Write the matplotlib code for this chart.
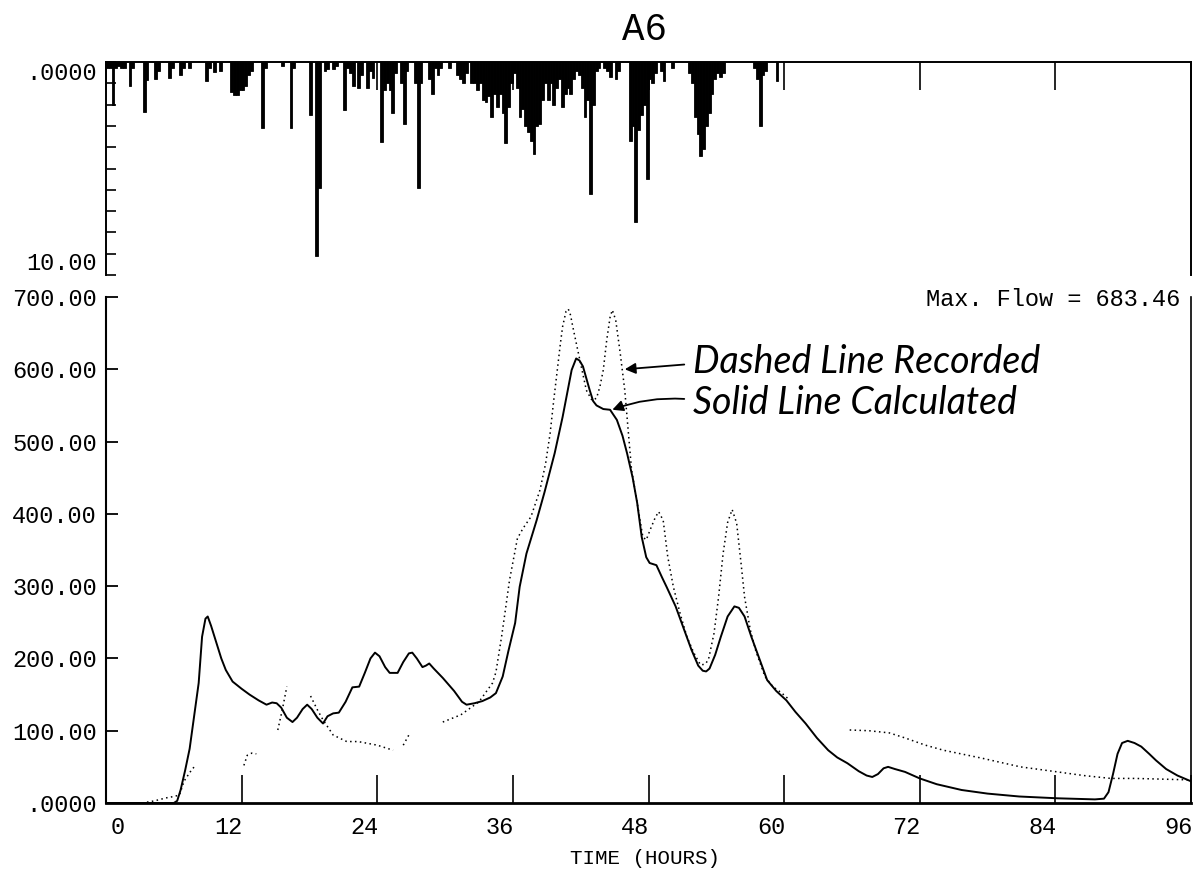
import numpy as np
import matplotlib
matplotlib.use("Agg")
import matplotlib.pyplot as plt

plt.rcParams["font.family"] = ["Liberation Mono", "DejaVu Sans Mono"]

nan = float("nan")

# ---------------------------------------------------------------- data
title = "A6"
hour_ticks = [0, 12, 24, 36, 48, 60, 72, 84, 96]
hour_labels = ["0", "12", "24", "36", "48", "60", "72", "84", "96"]
flow_ticks = [0, 100, 200, 300, 400, 500, 600, 700]
flow_labels = [".0000", "100.00", "200.00", "300.00", "400.00", "500.00", "600.00", "700.00"]

# rainfall per 15-minute interval (start hour, depth)
rain_t = [0.00, 0.25, 0.50, 0.75, 1.00, 1.25, 1.50, 2.00, 2.25, 3.25,
          3.50, 4.25, 4.50, 5.50, 5.75, 6.50, 6.75, 7.25, 8.75, 9.00,
          9.50, 10.00, 11.00, 11.25, 11.50, 11.75, 12.00, 12.25, 12.50, 12.75,
          13.75, 14.00, 15.50, 16.25, 16.50, 18.00, 18.50, 18.75, 19.25, 19.50,
          20.00, 20.25, 21.00, 21.25, 21.50, 21.75, 22.25, 22.50, 23.00, 23.25,
          23.50, 24.25, 24.50, 24.75, 25.00, 25.25, 25.50, 26.00, 26.25, 26.50,
          27.25, 27.50, 27.75, 28.50, 28.75, 29.00, 29.25, 29.50, 30.25, 31.00,
          31.25, 31.50, 31.75, 32.25, 32.50, 32.75, 33.00, 33.25, 33.50, 33.75,
          34.00, 34.25, 34.50, 34.75, 35.00, 35.25, 35.50, 35.75, 36.00, 36.25,
          36.50, 36.75, 37.00, 37.25, 37.50, 37.75, 38.00, 38.25, 38.50, 38.75,
          39.00, 39.25, 39.50, 39.75, 40.00, 40.25, 40.50, 40.75, 41.00, 41.25,
          41.50, 41.75, 42.00, 42.25, 42.50, 42.75, 43.00, 43.25, 43.50, 44.00,
          44.25, 44.50, 45.00, 45.25, 46.25, 46.50, 46.75, 47.00, 47.25, 47.50,
          47.75, 48.00, 48.25, 48.50, 49.00, 49.25, 50.00, 51.50, 51.75, 52.00,
          52.25, 52.50, 52.75, 53.00, 53.25, 53.50, 53.75, 54.00, 54.25, 54.50,
          57.25, 57.50, 57.75, 58.00, 58.25, 59.25]
rain_mm = [0.3, 0.3, 2.0, 0.3, 0.2, 0.3, 0.3, 1.15, 0.3, 2.35,
           0.85, 0.8, 0.4, 0.75, 0.3, 0.6, 0.3, 0.3, 0.9, 0.3,
           0.45, 0.4, 1.4, 1.55, 1.55, 1.3, 1.3, 1.15, 0.6, 0.4,
           3.1, 0.3, 0.2, 3.1, 0.3, 2.5, 9.1, 5.9, 0.4, 0.35,
           0.35, 0.2, 2.25, 0.3, 0.5, 1.15, 1.2, 0.6, 1.2, 0.4,
           0.75, 3.75, 1.3, 1.0, 1.3, 2.4, 0.5, 1.0, 2.9, 0.4,
           1.0, 5.9, 1.0, 0.8, 1.5, 0.3, 0.6, 0.3, 0.3, 0.6,
           0.8, 1.0, 0.5, 1.0, 1.0, 1.3, 1.0, 1.8, 1.9, 1.6,
           2.6, 1.5, 2.1, 1.5, 2.4, 3.8, 2.1, 1.0, 0.5, 1.2,
           2.6, 2.2, 3.0, 3.3, 3.7, 4.3, 3.0, 2.9, 1.8, 1.0,
           1.8, 1.0, 2.0, 1.2, 0.8, 2.1, 1.5, 1.2, 1.5, 0.8,
           0.4, 0.6, 1.2, 2.6, 1.8, 6.2, 2.0, 0.4, 0.3, 0.3,
           0.4, 0.7, 0.8, 0.4, 3.7, 3.0, 7.5, 3.2, 2.5, 2.0,
           5.5, 0.8, 1.0, 0.5, 0.4, 0.9, 0.3, 0.5, 1.0, 2.6,
           3.4, 4.4, 4.1, 3.0, 2.4, 1.5, 0.8, 0.5, 0.7, 0.5,
           0.3, 0.8, 3.0, 0.6, 0.4, 0.9]

# calculated flow (hour, flow)
calc_t = [0, 6.0, 6.3, 6.6, 7.0, 7.4, 7.8, 8.2, 8.5, 8.8,
          9.0, 9.3, 9.7, 10.2, 10.6, 11.2, 12.0, 12.7, 13.5, 14.2,
          14.7, 15.1, 15.5, 16.0, 16.5, 16.9, 17.4, 17.8, 18.2, 18.7,
          19.2, 19.6, 20.1, 20.6, 21.2, 21.8, 22.4, 22.9, 23.4, 23.8,
          24.2, 24.7, 25.1, 25.8, 26.3, 26.8, 27.1, 27.5, 28.0, 28.3,
          28.6, 29.0, 29.8, 30.8, 31.5, 31.9, 32.6, 33.3, 34.0, 34.5,
          35.1, 35.6, 36.2, 36.6, 37.2, 38.1, 38.8, 39.7, 40.4, 40.9,
          41.2, 41.6, 41.9, 42.2, 42.8, 43.1, 43.4, 44.0, 44.6, 45.2,
          45.7, 46.1, 46.6, 47.0, 47.4, 47.8, 48.1, 48.7, 49.2, 49.6,
          50.4, 51.1, 51.8, 52.4, 52.8, 53.1, 53.4, 53.9, 54.4, 55.0,
          55.6, 56.0, 56.5, 57.1, 57.8, 58.5, 59.3, 60.2, 61.0, 61.9,
          62.9, 63.9, 64.7, 65.6, 66.6, 67.3, 67.8, 68.3, 68.8, 69.2,
          69.8, 70.7, 72.0, 73.5, 75.7, 78.0, 80.8, 84.2, 87.5, 88.3,
          88.7, 89.1, 89.5, 89.9, 90.4, 91.0, 91.6, 92.3, 92.9, 93.8,
          94.8, 96.0]
calc_q = [0, 0, 3, 18, 45, 75, 120, 166, 230, 255,
          258, 245, 225, 200, 184, 168, 158, 150, 142, 136,
          139, 138, 132, 118, 112, 118, 130, 136, 130, 118,
          110, 120, 124, 125, 140, 160, 161, 180, 200, 208,
          203, 188, 180, 180, 195, 207, 208, 200, 188, 190,
          193, 186, 173, 155, 140, 136, 138, 141, 146, 152,
          175, 210, 249, 299, 345, 391, 430, 484, 534, 575,
          599, 615, 612, 604, 571, 556, 550, 545, 544, 530,
          508, 484, 450, 415, 368, 340, 332, 329, 312, 299,
          272, 242, 212, 190, 183, 182, 186, 205, 230, 258,
          272, 270, 258, 230, 200, 170, 155, 142, 126, 110,
          90, 73, 63, 55, 44, 38, 36, 40, 48, 50,
          47, 43, 34, 26, 18, 13, 9, 6.5, 5, 6,
          15, 40, 68, 83, 86, 83, 78, 68, 59, 47,
          38, 30]

# recorded flow (hour, flow); NaN marks gaps in the record
rec_t = [3.2, 4.3, 5.3, 6.0, 6.5, 6.9, 7.4, 7.9, nan,
         12.2, 12.5, 12.9, 13.3, nan,
         15.2, 15.6, 16.0, nan,
         18.1, 18.7, 19.2, 20.1, 21.3, 22.3, 24.0, 25.4, nan,
         26.3, 26.9, nan,
         29.8, 31.4, 33.0, 34.2, 34.5, 35.0, 35.3, 35.7, 36.4, 36.9,
         37.6, 38.4, 38.9, 39.3, 39.6, 39.9, 40.2, 40.4, 40.7, 40.9,
         41.1, 41.3, 41.8, 42.5, 43.0, 43.4, 43.7, 44.0, 44.3, 44.6,
         44.8, 45.1, 45.5, 45.9, 46.2, 46.5, 47.0, 47.5, 47.8, 48.2,
         48.6, 48.9, 49.3, 49.7, 50.2, 50.8, 51.4, 52.0, 52.6, 53.0,
         53.3, 53.8, 54.2, 54.6, 55.0, 55.4, 55.8, 56.2, 56.5, 57.0,
         57.5, 58.3, 59.0, 59.8, 60.3, nan,
         65.8, 67.5, 69.3, 70.7, 72.5, 74.1, 77.5, 80.9, 84.2, 86.5,
         88.9, 91.0, 93.5, 95.8, 96.0]
rec_q = [0, 3, 7, 9, 11, 30, 42, 52, nan,
         52, 66, 69, 68, nan,
         101, 129, 161, nan,
         148, 129, 115, 94, 85, 85, 80, 73, nan,
         80, 97, nan,
         112, 122, 140, 166, 181, 230, 263, 308, 366, 380,
         396, 433, 470, 512, 555, 595, 635, 659, 680, 683.46,
         675, 659, 622, 571, 557, 560, 576, 599, 640, 672,
         682, 668, 622, 571, 516, 461, 415, 368, 364, 380,
         395, 403, 391, 341, 299, 262, 230, 208, 191, 192,
         198, 235, 285, 345, 388, 406, 387, 330, 285, 240,
         210, 175, 161, 152, 145, nan,
         101, 100, 97, 90, 80, 73, 62, 50, 43, 38,
         34, 34, 33, 32, 31]

# ---------------------------------------------------------------- layout
W, H = 1200, 875
fig = plt.figure(figsize=(W / 100, H / 100), dpi=100)
fig.patch.set_facecolor("white")

x_left, x_right = 106, 1191
PX = 0.72  # points per pixel at 100 dpi
LBL = 17   # axis label size

# ---- rainfall panel (hanging bars)
ax_r = fig.add_axes([x_left / W, 1 - 275 / H, (x_right - x_left) / W, (275 - 62) / H])
ax_r.bar(rain_t, rain_mm, width=0.25, align="edge", color="black",
         edgecolor="black", linewidth=0.6)
ax_r.set_xlim(0, 96)
ax_r.set_ylim(10, 0)
ax_r.spines["bottom"].set_visible(False)
for side in ("left", "top", "right"):
    ax_r.spines[side].set_linewidth(1.4)
ax_r.set_xticks(hour_ticks)
ax_r.tick_params(axis="x", direction="in", length=28 * PX, width=1.2,
                 top=True, bottom=False, labeltop=False, labelbottom=False)
ax_r.set_yticks(range(0, 11))
ax_r.tick_params(axis="y", direction="in", length=10 * PX, width=1.2,
                 labelleft=False)
ytr = ax_r.get_yaxis_transform()
ax_r.text(-0.008, 0, ".0000", transform=ytr, ha="right", va="top", fontsize=LBL)
ax_r.text(-0.008, 10, "10.00", transform=ytr, ha="right", va="bottom", fontsize=LBL)

# ---- flow panel
ax_q = fig.add_axes([x_left / W, 1 - 803 / H, (x_right - x_left) / W, (803 - 297) / H])
ax_q.plot(rec_t, rec_q, color="black", lw=1.1, linestyle=(0, (1, 2.2)))
ax_q.plot(calc_t, calc_q, color="black", lw=1.4)
ax_q.set_xlim(0, 96)
ax_q.set_ylim(0, 700)
ax_q.spines["top"].set_visible(False)
ax_q.spines["left"].set_linewidth(1.5)
ax_q.spines["bottom"].set_linewidth(2.0)
ax_q.spines["right"].set_linewidth(1.2)
ax_q.set_yticks(flow_ticks, flow_labels)
ax_q.tick_params(axis="y", direction="in", length=12 * PX, width=1.3,
                 pad=9 * PX, labelsize=LBL)
ax_q.set_xticks(hour_ticks)
ax_q.tick_params(axis="x", direction="in", length=28 * PX, width=1.2,
                 labelbottom=False)
for h, lab in zip(hour_ticks, hour_labels):
    dx = 12 if h == 0 else -13
    ax_q.annotate(lab, xy=(h, 0), xycoords=("data", "axes fraction"),
                  xytext=(dx * PX, -25 * PX), textcoords="offset points",
                  ha="center", va="center", fontsize=LBL)

max_flow = np.nanmax(np.array(rec_q, dtype=float))
fig.text(1180 / W, 1 - 300 / H, f"Max. Flow = {max_flow:.2f}",
         ha="right", va="center", fontsize=LBL)

fig.text(645 / W, 1 - 30 / H, title, ha="center", va="center", fontsize=27)
fig.text(645 / W, 1 - 858 / H, "TIME (HOURS)", ha="center", va="center", fontsize=15)

# ---- handwritten notes with arrows
note_font = dict(family=["Lato", "DejaVu Sans"], style="italic", fontsize=27)
ax_q.annotate("Dashed Line Recorded", xy=(45.9, 600), xytext=(51.9, 610),
              textcoords="data", ha="left", va="center", **note_font,
              arrowprops=dict(arrowstyle="-|>", color="black", lw=1.3,
                              mutation_scale=16, shrinkA=4, shrinkB=0,
                              relpos=(0, 0.45)))
ax_q.annotate("Solid Line Calculated", xy=(44.8, 544), xytext=(51.9, 553),
              textcoords="data", ha="left", va="center", **note_font,
              arrowprops=dict(arrowstyle="-|>", color="black", lw=1.3,
                              mutation_scale=16, shrinkA=4, shrinkB=0,
                              relpos=(0, 0.6),
                              connectionstyle="arc3,rad=0.12"))

fig.savefig("out.png", dpi=100, facecolor="white")
